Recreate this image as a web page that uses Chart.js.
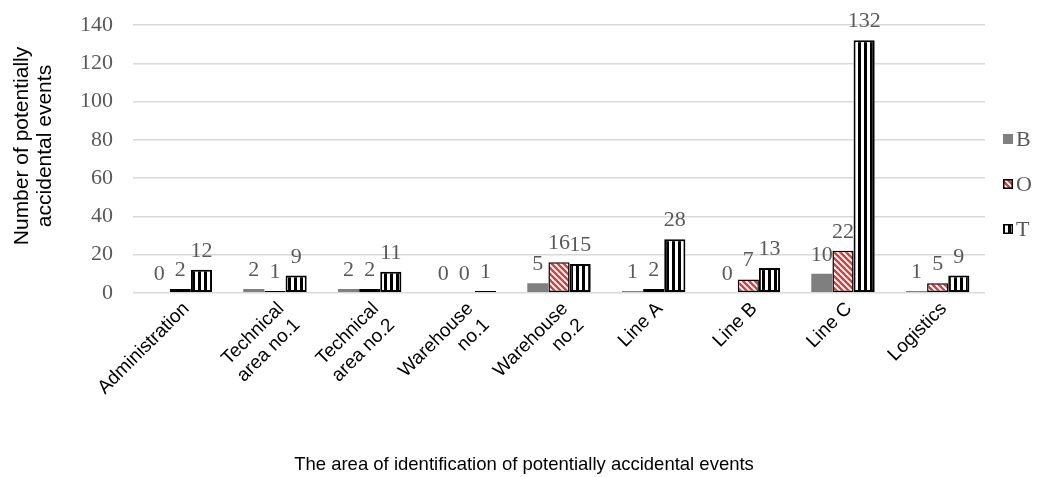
<!DOCTYPE html>
<html>
<head>
<meta charset="utf-8">
<script src="https://cdn.jsdelivr.net/npm/chart.js@4/dist/chart.umd.min.js"></script>
<style>
  html, body { margin: 0; padding: 0; background: #ffffff; }
  #wrap { width: 1048px; height: 477px; position: relative; }
</style>
</head>
<body>
<div id="wrap"><canvas id="chart"></canvas></div>
<script>
// Areas where potentially accidental events were identified
const categories = [
  'Administration',
  ['Technical', 'area no.1'],
  ['Technical', 'area no.2'],
  ['Warehouse', 'no.1'],
  ['Warehouse', 'no.2'],
  'Line A',
  'Line B',
  'Line C',
  'Logistics'
];
const seriesNames = ['B', 'O', 'T'];
const valuesB = [0, 2, 2, 0, 5, 1, 0, 10, 1];
const valuesO = [2, 1, 2, 0, 16, 2, 7, 22, 5];
const valuesT = [12, 9, 11, 1, 15, 28, 13, 132, 9];
const yTickMin = 0;
const yTickMax = 140;
const yTickStep = 20;
const yTitleLines = ['Number of potentially', 'accidental events'];

const SERIF = "'Liberation Serif', 'Times New Roman', serif";
const SANS = "'Liberation Sans', Arial, sans-serif";
const GREY_TEXT = '#595959';

// Fill patterns: red diagonal hatch and black vertical stripes
function makeHatch() {
  const s = 6;
  const c = document.createElement('canvas');
  c.width = s; c.height = s;
  const g = c.getContext('2d');
  g.fillStyle = '#ffffff';
  g.fillRect(0, 0, s, s);
  g.strokeStyle = '#c94441';
  g.lineWidth = 2.4;
  for (const k of [-s, 0, s]) {
    g.beginPath();
    g.moveTo(k - 1, -1);
    g.lineTo(k + s + 1, s + 1);
    g.stroke();
  }
  return g.createPattern(c, 'repeat');
}
function makeStripes() {
  const w = 6;
  const c = document.createElement('canvas');
  c.width = w; c.height = 6;
  const g = c.getContext('2d');
  g.fillStyle = '#ffffff';
  g.fillRect(0, 0, w, 6);
  g.fillStyle = '#000000';
  g.fillRect(0, 0, 3, 6);
  return g.createPattern(c, 'repeat');
}
const hatchO = makeHatch();
const stripesT = makeStripes();

const seriesStyles = [
  { fill: '#7f7f7f', border: '#7f7f7f', width: 0 },
  { fill: hatchO, border: '#000000', width: 1.5 },
  { fill: stripesT, border: '#000000', width: 2 }
];

// Value labels above every bar
const valueLabels = {
  id: 'valueLabels',
  afterDatasetsDraw(chart) {
    const ctx = chart.ctx;
    ctx.save();
    ctx.font = '22px ' + SERIF;
    ctx.fillStyle = GREY_TEXT;
    ctx.textAlign = 'center';
    ctx.textBaseline = 'alphabetic';
    chart.data.datasets.forEach((ds, i) => {
      const meta = chart.getDatasetMeta(i);
      meta.data.forEach((bar, j) => {
        ctx.fillText(String(ds.data[j]), bar.x, bar.y - 13);
      });
    });
    ctx.restore();
  }
};

// Legend stacked at the right edge, plus the vertical axis caption
const sideLegend = {
  id: 'sideLegend',
  afterDraw(chart) {
    const ctx = chart.ctx;
    const x = chart.width - 45;
    const y0 = 139;
    const step = 45;
    ctx.save();
    chart.data.datasets.forEach((ds, i) => {
      const y = y0 + i * step;
      const st = seriesStyles[i];
      ctx.fillStyle = st.fill;
      ctx.fillRect(x, y - 5, 10, 10);
      if (st.width) {
        ctx.lineWidth = 1.5;
        ctx.strokeStyle = st.border;
        ctx.strokeRect(x + 0.75, y - 4.25, 8.5, 8.5);
      }
      ctx.font = '22px ' + SERIF;
      ctx.fillStyle = GREY_TEXT;
      ctx.textAlign = 'left';
      ctx.textBaseline = 'middle';
      ctx.fillText(ds.label, x + 13, y + 1);
    });

    // y-axis caption, two rotated lines
    ctx.translate(33.5, 146);
    ctx.rotate(-Math.PI / 2);
    ctx.font = '21px ' + SANS;
    ctx.fillStyle = '#000000';
    ctx.textAlign = 'center';
    ctx.textBaseline = 'middle';
    ctx.fillText(yTitleLines[0], 0, -11.5);
    ctx.fillText(yTitleLines[1], 0, 11.5);
    ctx.restore();
  }
};

const seriesValues = [valuesB, valuesO, valuesT];
const datasets = seriesNames.map((name, i) => ({
  label: name,
  data: seriesValues[i],
  backgroundColor: seriesStyles[i].fill,
  borderColor: seriesStyles[i].border,
  borderWidth: seriesStyles[i].width,
  borderSkipped: false,
  categoryPercentage: 0.67,
  barPercentage: 1.0
}));

new Chart(document.getElementById('chart'), {
  type: 'bar',
  data: { labels: categories, datasets },
  plugins: [valueLabels, sideLegend],
  options: {
    responsive: true,
    maintainAspectRatio: false,
    animation: false,
    layout: { padding: { top: 25, right: 0, left: 0, bottom: 0 } },
    plugins: {
      legend: { display: false },
      tooltip: { enabled: false },
      title: {
        display: true,
        position: 'bottom',
        text: 'The area of identification of potentially accidental events',
        color: '#000000',
        font: { family: SANS, size: 18.5, weight: 'normal' },
        padding: { top: 12, bottom: 1 }
      }
    },
    scales: {
      x: {
        grid: { display: false },
        border: { display: false },
        ticks: {
          color: '#000000',
          font: { family: SANS, size: 19 },
          maxRotation: 45,
          minRotation: 45,
          padding: -3,
          labelOffset: 6,
          autoSkip: false
        },
        afterFit(scale) { scale.height = 149; }
      },
      y: {
        min: yTickMin,
        max: yTickMax,
        grid: { color: '#d9d9d9', lineWidth: 1.5, drawTicks: false },
        border: { display: false },
        ticks: {
          stepSize: yTickStep,
          color: GREY_TEXT,
          font: { family: SERIF, size: 22 },
          padding: 20
        },
        afterFit(scale) {
          scale.width = 133;
          scale.paddingTop = 0;
          scale.paddingBottom = 0;
        }
      },
      // empty strip on the right that holds the legend
      legendSpace: {
        type: 'linear',
        position: 'right',
        display: true,
        grid: { display: false },
        border: { display: false },
        ticks: { display: false },
        afterFit(scale) {
          scale.width = 63;
          scale.paddingTop = 0;
          scale.paddingBottom = 0;
        }
      }
    }
  }
});
</script>
</body>
</html>
